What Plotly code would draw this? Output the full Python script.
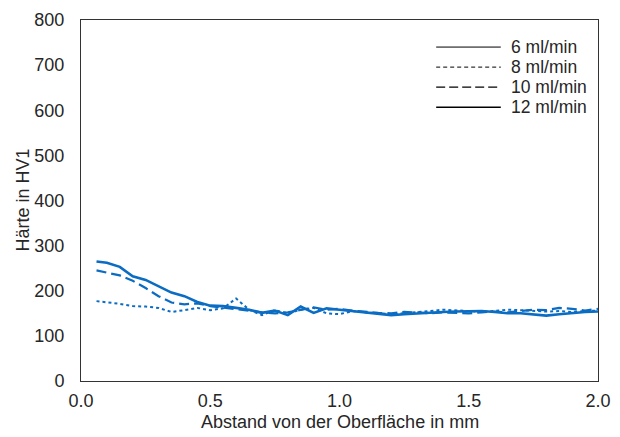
import plotly.graph_objects as go

x_mm = [0.06, 0.10, 0.15, 0.20, 0.25, 0.30, 0.35, 0.40, 0.45, 0.50,
        0.55, 0.60, 0.65, 0.70, 0.75, 0.80, 0.85, 0.90, 0.95, 1.00,
        1.05, 1.10, 1.15, 1.20, 1.25, 1.30, 1.35, 1.40, 1.45, 1.50,
        1.55, 1.60, 1.65, 1.70, 1.75, 1.80, 1.85, 1.90, 1.95, 2.00]

hv_8 = [177, 175, 171, 166, 165, 162, 153, 157, 162, 157,
        161, 183, 158, 146, 157, 150, 158, 162, 150, 148,
        155, 152, 150, 148, 150, 152, 155, 158, 157, 155,
        153, 155, 158, 157, 155, 154, 155, 153, 155, 156]

hv_10 = [245, 240, 234, 222, 206, 188, 174, 170, 172, 166,
         163, 160, 156, 152, 150, 152, 157, 163, 158, 160,
         156, 153, 151, 150, 153, 152, 150, 152, 151, 150,
         152, 154, 152, 155, 158, 157, 162, 160, 156, 160]

hv_12 = [265, 262, 253, 232, 224, 210, 196, 188, 175, 167,
         166, 162, 158, 151, 156, 146, 165, 151, 161, 158,
         155, 152, 148, 146, 148, 150, 152, 153, 154, 155,
         155, 153, 150, 150, 148, 145, 148, 151, 153, 154]

legend_names = ["6 ml/min", "8 ml/min", "10 ml/min", "12 ml/min"]
legend_dash = ["solid", "4px,3px", "9px,4px", "solid"]
legend_width = [1, 1, 1.3, 1.5]

x_title = "Abstand von der Oberfläche in mm"
y_title = "Härte in HV1"

BLUE = "#0A6CC2"
FONT = "Liberation Sans, Arial, sans-serif"
FS = 18
FS_LEG = 17.5
TXT = "#262626"

fig = go.Figure()

fig.add_trace(go.Scatter(x=x_mm, y=hv_8, mode="lines", name="8 ml/min", showlegend=False,
                         line=dict(color=BLUE, width=2, dash="dot")))
fig.add_trace(go.Scatter(x=x_mm, y=hv_10, mode="lines", name="10 ml/min", showlegend=False,
                         line=dict(color=BLUE, width=2.2, dash="10px,5px")))
fig.add_trace(go.Scatter(x=x_mm, y=hv_12, mode="lines", name="12 ml/min", showlegend=False,
                         line=dict(color=BLUE, width=2.6, dash="solid")))

# Manual legend (black key lines, as in the reference)
leg_x0, leg_x1, leg_tx = 0.687, 0.812, 0.827
leg_y0, leg_dy = 0.925, 0.0555
shapes = []
annotations = []
for i, (name, dash, w) in enumerate(zip(legend_names, legend_dash, legend_width)):
    yy = leg_y0 - i * leg_dy
    shapes.append(dict(type="line", xref="paper", yref="paper",
                       x0=leg_x0, x1=leg_x1, y0=yy, y1=yy,
                       line=dict(color="black", width=w, dash=dash)))
    annotations.append(dict(xref="paper", yref="paper", x=leg_tx, y=yy,
                            text=name, showarrow=False, xanchor="left",
                            yanchor="middle", font=dict(size=FS_LEG, color=TXT)))

# Axis titles
annotations.append(dict(xref="paper", yref="paper", x=0.5, y=-0.114,
                        text=x_title, showarrow=False, xanchor="center",
                        yanchor="middle", font=dict(size=FS, color=TXT)))
annotations.append(dict(xref="paper", yref="paper", x=-0.114, y=0.5,
                        text=y_title, showarrow=False, xanchor="center",
                        yanchor="middle", textangle=-90,
                        font=dict(size=FS, color=TXT)))

fig.update_layout(
    width=620, height=437,
    margin=dict(l=81, r=22, t=20, b=56),
    paper_bgcolor="white", plot_bgcolor="white",
    font=dict(family=FONT, size=FS, color=TXT),
    showlegend=False,
    shapes=shapes,
    annotations=annotations,
    xaxis=dict(range=[0, 2.0], tickvals=[0, 0.5, 1.0, 1.5, 2.0],
               ticktext=["0.0", "0.5", "1.0", "1.5", "2.0"],
               showgrid=False, zeroline=False, showline=True,
               linecolor="#333333", linewidth=1, mirror=True, ticks="",
               ticklabelstandoff=3, automargin=False),
    yaxis=dict(range=[0, 800], tickvals=[0, 100, 200, 300, 400, 500, 600, 700, 800],
               showgrid=False, zeroline=False, showline=True,
               linecolor="#333333", linewidth=1, mirror=True, ticks="",
               ticklabelstandoff=12, automargin=False),
)

fig.write_html("out.html")
